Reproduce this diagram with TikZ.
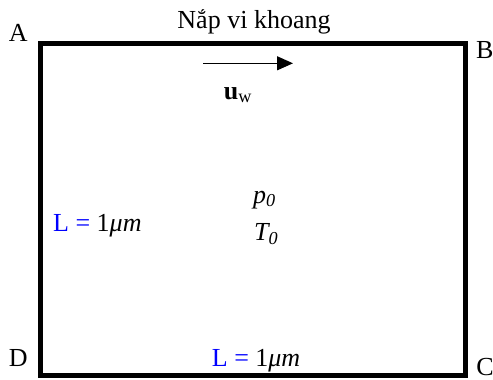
\documentclass[tikz,border=0pt]{standalone}
\usepackage{fontspec}
\setmainfont{Liberation Serif}
\usetikzlibrary{arrows.meta}
\begin{document}
\begin{tikzpicture}[x=1pt,y=-1pt,
  lbl/.style={inner sep=0pt, font=\fontsize{26}{30}\selectfont},
  wall/.style={line width=5pt, line join=miter},
  vel/.style={line width=1.2pt, -{Triangle[length=16pt,width=14pt]}}]
\useasboundingbox (0,0) rectangle (493,380);
\coordinate (cA) at (40.5,43);
\coordinate (cB) at (465.5,43);
\coordinate (cC) at (465.5,375);
\coordinate (cD) at (40.5,375);
\draw[wall] (cA) -- (cB) -- (cC) -- (cD) -- cycle;
\node[lbl, anchor=base] (A) at (18.3,41.7) {A};
\node[lbl, anchor=base] (B) at (484.7,58) {B};
\node[lbl, anchor=base] (C) at (485,375.5) {C};
\node[lbl, anchor=base] (D) at (18.3,366.7) {D};
\node[lbl, anchor=base] (title) at (254,28.3) {Nắp vi khoang};
\coordinate (u1) at (203,63.3);
\coordinate (u2) at (293,63.3);
\draw[vel] (u1) -- (u2);
\node[lbl, anchor=base] (uw) at (238,99) {\textbf{u}\textsubscript{w}};
\node[lbl, anchor=base west] (p0) at (253,203) {\textit{p\textsubscript{0}}};
\node[lbl, anchor=base west] (T0) at (254,240.7) {\textit{T\textsubscript{0}}};
\node[lbl, anchor=base west] (L1) at (53,231.7) {\textcolor{blue}{L =} 1\textit{μm}};
\node[lbl, anchor=base west] (L2) at (211.7,366.7) {\textcolor{blue}{L =} 1\textit{μm}};
\end{tikzpicture}
\end{document}
